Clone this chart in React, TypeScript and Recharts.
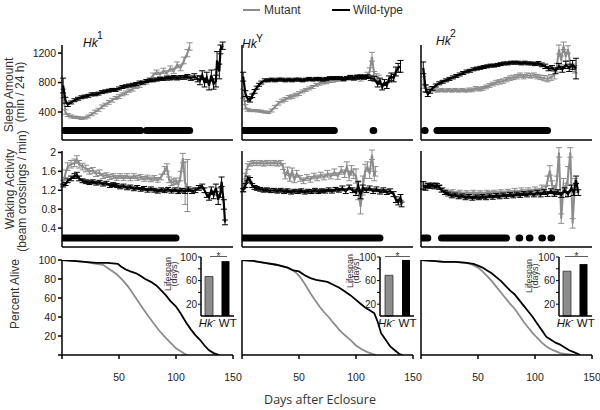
import React from 'react';
import { ComposedChart, Line, XAxis, YAxis, ErrorBar, BarChart, Bar, Cell } from 'recharts';

type P = number[];

// x ticks (days after eclosure) and y ticks per row
const dayTicks = [0, 50, 100, 150];
const sleepTicks = [400, 800, 1200];
const wakeTicks = [0.4, 0.8, 1.2, 1.6, 2];
const aliveTicks = [0, 20, 40, 60, 80, 100];
const lifeTicks = [20, 40, 60, 80, 100];
const superscripts = ['1', 'Y', '2'];

// [day, mean, sem]
const sleepMut1: P[] = [[1,650,60],[3,400,30],[5,360,20],[8,340,20],[11,330,15],[14,325,15],[17,315,15],[20,320,15],[23,340,20],[26,370,20],[29,400,25],[32,430,20],[35,470,25],[38,500,20],[41,530,25],[44,560,25],[47,590,20],[50,610,25],[53,640,20],[56,660,25],[59,690,20],[62,710,25],[65,740,20],[68,760,25],[71,790,20],[74,810,30],[77,840,25],[80,900,30],[83,940,30],[86,910,30],[89,960,35],[92,930,30],[95,990,35],[98,960,35],[101,1040,40],[104,1000,40],[107,1100,45],[110,1200,50],[112,1290,50]];
const sleepWT1: P[] = [[1,760,100],[3,560,40],[5,500,25],[8,530,20],[11,560,20],[14,580,20],[17,600,20],[20,610,20],[23,620,20],[26,640,20],[29,640,20],[32,650,20],[35,670,20],[38,680,20],[41,690,20],[44,700,20],[47,700,20],[50,720,20],[53,740,20],[56,750,20],[59,760,20],[62,770,20],[65,780,20],[68,800,20],[71,800,20],[74,820,20],[77,830,20],[80,830,20],[83,840,20],[86,850,20],[89,850,20],[92,860,25],[95,860,25],[98,870,25],[101,860,25],[104,870,25],[107,870,25],[110,880,30],[113,860,30],[116,880,40],[119,850,40],[121,830,60],[123,900,60],[125,800,60],[127,870,70],[129,760,60],[131,900,70],[133,780,70],[135,820,80],[136,1100,120],[138,950,100],[139,1250,60],[141,1300,50]];
const sleepMut2: P[] = [[1,650,60],[3,470,30],[5,430,20],[8,420,15],[11,420,15],[14,415,15],[17,410,15],[20,400,15],[23,395,15],[26,420,20],[29,470,20],[32,520,25],[35,550,25],[38,570,25],[41,600,25],[44,610,25],[47,630,25],[50,650,25],[53,680,20],[56,700,20],[59,720,20],[62,740,20],[65,770,20],[68,790,25],[71,800,20],[74,810,25],[77,820,20],[80,830,25],[83,840,25],[86,850,25],[89,840,25],[92,860,25],[95,870,30],[98,860,30],[101,880,30],[104,850,30],[107,880,30],[110,900,40],[112,950,50],[114,1150,60],[116,900,50],[118,880,40],[120,860,40]];
const sleepWT2: P[] = [[1,880,60],[3,650,40],[5,580,30],[7,560,25],[9,620,25],[11,680,25],[13,730,20],[15,770,20],[17,800,20],[20,830,20],[23,830,20],[26,840,20],[29,830,20],[32,840,20],[35,840,20],[38,830,20],[41,840,20],[44,830,20],[47,840,20],[50,840,20],[53,830,20],[56,840,20],[59,850,20],[62,840,20],[65,850,20],[68,850,20],[71,840,20],[74,850,20],[77,860,20],[80,860,20],[83,860,20],[86,860,20],[89,850,20],[92,860,20],[95,870,25],[98,860,25],[101,870,25],[104,880,25],[107,870,25],[110,880,25],[113,860,30],[116,850,30],[119,780,40],[121,820,40],[123,740,40],[125,800,40],[127,760,40],[129,850,40],[131,880,50],[133,860,50],[135,950,60],[137,1000,60],[139,1020,80]];
const sleepMut3: P[] = [[2,800,80],[4,720,40],[6,700,30],[9,720,25],[12,700,25],[15,690,20],[18,700,20],[21,690,20],[24,700,20],[27,690,20],[30,700,20],[33,690,20],[36,700,20],[39,690,20],[42,700,25],[45,700,25],[48,720,25],[51,710,25],[54,720,25],[57,740,25],[60,760,25],[63,780,25],[66,800,30],[69,810,30],[72,820,30],[75,840,30],[78,860,30],[81,870,30],[84,880,30],[87,900,30],[90,880,30],[93,900,30],[96,890,30],[99,900,30],[102,880,30],[105,870,30],[108,860,35],[111,850,40],[114,870,40],[117,900,50],[119,1000,60],[121,1250,60],[123,1100,60],[125,1300,50],[127,1150,60],[129,1250,50],[131,1050,50],[133,1000,50],[135,980,50]];
const sleepWT3: P[] = [[2,1000,80],[4,720,50],[6,640,30],[8,680,25],[10,720,25],[13,760,20],[16,790,20],[19,810,20],[22,830,20],[25,850,20],[28,870,20],[31,890,20],[34,910,20],[37,930,20],[40,950,20],[43,960,20],[46,980,20],[49,990,20],[52,1000,20],[55,1010,20],[58,1020,20],[61,1030,20],[64,1030,20],[67,1040,20],[70,1050,20],[73,1060,20],[76,1060,20],[79,1070,20],[82,1070,20],[85,1070,20],[88,1060,20],[91,1070,20],[94,1060,20],[97,1060,20],[100,1050,20],[103,1060,25],[106,1040,25],[109,1020,30],[112,990,30],[115,1000,30],[118,960,40],[121,1020,40],[124,980,40],[127,1040,50],[130,1000,50],[133,1040,60],[136,990,140]];

const wakeMut1: P[] = [[1,1.36,0.05],[3,1.55,0.08],[5,1.7,0.08],[8,1.75,0.08],[11,1.78,0.08],[13,1.85,0.08],[15,1.75,0.08],[18,1.7,0.07],[21,1.66,0.07],[24,1.6,0.06],[27,1.62,0.06],[30,1.55,0.06],[33,1.57,0.06],[36,1.5,0.05],[39,1.52,0.05],[42,1.48,0.05],[45,1.5,0.05],[48,1.46,0.05],[51,1.5,0.05],[54,1.46,0.05],[57,1.5,0.05],[60,1.45,0.05],[63,1.5,0.05],[66,1.46,0.05],[69,1.48,0.05],[72,1.44,0.05],[75,1.47,0.05],[78,1.43,0.05],[81,1.46,0.05],[84,1.42,0.05],[87,1.48,0.06],[90,1.62,0.08],[92,1.68,0.08],[94,1.42,0.06],[96,1.36,0.06],[98,1.38,0.06],[100,1.4,0.06],[102,1.32,0.07],[104,1.5,0.1],[106,1.88,0.1],[108,1.35,0.45],[110,1.3,0.55]];
const wakeWT1: P[] = [[1,1.3,0.03],[3,1.33,0.03],[5,1.4,0.04],[8,1.45,0.05],[11,1.5,0.05],[13,1.52,0.06],[15,1.45,0.05],[18,1.4,0.04],[21,1.38,0.04],[24,1.36,0.04],[27,1.38,0.04],[30,1.35,0.04],[33,1.37,0.04],[36,1.33,0.04],[39,1.35,0.04],[42,1.3,0.04],[45,1.32,0.04],[48,1.3,0.04],[51,1.27,0.04],[54,1.29,0.04],[57,1.25,0.04],[60,1.27,0.04],[63,1.23,0.04],[66,1.26,0.04],[69,1.22,0.04],[72,1.24,0.04],[75,1.2,0.04],[78,1.23,0.04],[81,1.2,0.04],[84,1.18,0.04],[87,1.21,0.04],[90,1.19,0.04],[93,1.22,0.04],[96,1.18,0.04],[99,1.21,0.04],[102,1.17,0.04],[105,1.2,0.04],[108,1.18,0.05],[111,1.22,0.05],[114,1.18,0.05],[117,1.2,0.05],[120,1.25,0.05],[123,1.28,0.05],[125,1.2,0.05],[127,1.1,0.05],[129,1.05,0.06],[131,1.2,0.07],[133,1.1,0.08],[135,1.25,0.08],[137,1.0,0.1],[139,1.15,0.1],[140,1.38,0.1],[142,0.9,0.1],[143,0.52,0.05]];
const wakeMut2: P[] = [[1,1.2,0.04],[3,1.5,0.06],[5,1.7,0.06],[7,1.76,0.05],[10,1.78,0.05],[13,1.77,0.05],[16,1.78,0.05],[19,1.76,0.05],[22,1.78,0.05],[25,1.77,0.05],[28,1.78,0.05],[31,1.76,0.05],[34,1.78,0.05],[36,1.7,0.06],[38,1.5,0.06],[40,1.62,0.07],[42,1.45,0.06],[44,1.6,0.07],[46,1.42,0.06],[48,1.55,0.07],[51,1.45,0.06],[54,1.4,0.06],[57,1.47,0.06],[60,1.43,0.06],[63,1.5,0.06],[66,1.46,0.06],[69,1.52,0.06],[72,1.48,0.06],[75,1.55,0.07],[78,1.5,0.06],[81,1.58,0.07],[84,1.5,0.07],[87,1.62,0.08],[90,1.55,0.08],[92,1.7,0.1],[94,1.5,0.1],[96,1.62,0.1],[98,1.55,0.1],[100,1.5,0.15],[102,1.2,0.2],[104,0.85,0.15],[106,1.3,0.2],[108,1.6,0.15],[110,1.7,0.1],[112,1.55,0.1],[114,1.95,0.1],[116,1.5,0.1],[117,1.6,0.1]];
const wakeWT2: P[] = [[1,1.2,0.03],[3,1.3,0.04],[5,1.45,0.05],[7,1.42,0.05],[9,1.3,0.04],[11,1.26,0.04],[13,1.24,0.04],[16,1.22,0.04],[19,1.2,0.04],[22,1.21,0.04],[25,1.19,0.04],[28,1.2,0.04],[31,1.18,0.04],[34,1.2,0.04],[37,1.17,0.04],[40,1.19,0.04],[43,1.16,0.04],[46,1.18,0.04],[49,1.17,0.04],[52,1.19,0.04],[55,1.16,0.04],[58,1.18,0.04],[61,1.17,0.04],[64,1.2,0.04],[67,1.17,0.04],[70,1.19,0.04],[73,1.18,0.04],[76,1.21,0.04],[79,1.18,0.04],[82,1.22,0.04],[85,1.2,0.04],[88,1.24,0.05],[91,1.18,0.05],[94,1.26,0.05],[97,1.2,0.05],[100,1.15,0.06],[102,1.3,0.08],[104,1.1,0.08],[106,1.25,0.06],[109,1.2,0.05],[112,1.24,0.05],[115,1.18,0.05],[118,1.22,0.05],[121,1.17,0.05],[124,1.2,0.05],[127,1.16,0.05],[130,1.18,0.05],[133,1.12,0.05],[135,1.0,0.06],[137,0.95,0.06],[139,1.05,0.06],[140,0.9,0.05]];
const wakeMut3: P[] = [[2,1.3,0.08],[4,1.28,0.05],[7,1.32,0.04],[10,1.3,0.04],[13,1.32,0.04],[16,1.28,0.04],[19,1.22,0.04],[22,1.18,0.04],[25,1.15,0.04],[28,1.17,0.04],[31,1.13,0.04],[34,1.16,0.04],[37,1.12,0.04],[40,1.15,0.04],[43,1.12,0.04],[46,1.16,0.04],[49,1.12,0.04],[52,1.15,0.04],[55,1.12,0.04],[58,1.16,0.04],[61,1.13,0.04],[64,1.16,0.04],[67,1.14,0.04],[70,1.17,0.04],[73,1.14,0.04],[76,1.18,0.04],[79,1.15,0.04],[82,1.19,0.05],[85,1.15,0.05],[88,1.2,0.05],[91,1.16,0.05],[94,1.2,0.05],[97,1.17,0.05],[100,1.22,0.05],[103,1.18,0.05],[106,1.25,0.06],[109,1.2,0.08],[111,1.4,0.1],[113,1.62,0.1],[115,1.3,0.1],[117,1.2,0.1],[119,1.35,0.15],[121,2.0,0.1],[123,0.6,0.1],[125,1.3,0.15],[127,1.2,0.15],[129,1.5,0.2],[131,2.0,0.1],[133,0.5,0.1],[135,1.3,0.15],[136,1.25,0.1]];
const wakeWT3: P[] = [[2,1.3,0.08],[4,1.25,0.05],[6,1.3,0.04],[8,1.28,0.04],[10,1.31,0.04],[12,1.27,0.04],[14,1.3,0.04],[16,1.26,0.04],[18,1.2,0.04],[21,1.15,0.04],[24,1.12,0.04],[27,1.08,0.04],[30,1.1,0.04],[33,1.06,0.04],[36,1.08,0.04],[39,1.04,0.04],[42,1.07,0.04],[45,1.03,0.04],[48,1.06,0.04],[51,1.04,0.04],[54,1.07,0.04],[57,1.04,0.04],[60,1.08,0.04],[63,1.05,0.04],[66,1.09,0.04],[69,1.06,0.04],[72,1.1,0.04],[75,1.07,0.04],[78,1.11,0.04],[81,1.08,0.04],[84,1.12,0.04],[87,1.09,0.04],[90,1.13,0.04],[93,1.1,0.04],[96,1.14,0.04],[99,1.1,0.04],[102,1.15,0.05],[105,1.11,0.05],[108,1.16,0.05],[111,1.12,0.05],[114,1.18,0.05],[117,1.12,0.05],[120,1.16,0.05],[123,1.1,0.05],[126,1.2,0.05],[129,1.12,0.05],[132,1.25,0.06],[134,1.15,0.06],[136,1.42,0.08],[138,1.15,0.06]];

// [day, percent alive]
const aliveMut1: P[] = [[0,100],[10,99],[20,98],[30,96],[36,95],[42,90],[48,85],[53,79],[58,72],[62,65],[66,58],[71,49],[75,42],[80,34],[85,26],[91,18],[96,12],[100,7],[104,4],[108,1],[110,0]];
const aliveWT1: P[] = [[0,100],[10,99],[20,98],[30,97],[40,97],[49,96],[52,93],[56,90],[60,88],[65,86],[68,84],[73,80],[78,77],[83,73],[87,68],[91,63],[95,57],[100,51],[104,44],[109,34],[113,27],[117,21],[121,16],[125,10],[129,5],[133,2],[138,0]];
const aliveMut2: P[] = [[0,100],[10,99],[20,97],[30,95],[40,92],[45,89],[48,86],[51,82],[55,75],[60,65],[64,58],[68,51],[72,45],[76,40],[80,34],[85,27],[90,21],[95,16],[100,10],[105,6],[110,3],[115,1],[118,0]];
const aliveWT2: P[] = [[0,100],[10,99],[20,97],[30,95],[40,92],[45,89],[50,88],[55,84],[60,81],[65,79],[70,78],[75,77],[80,74],[85,71],[89,68],[95,63],[100,58],[104,54],[108,50],[112,47],[116,44],[119,35],[122,23],[126,16],[130,9],[134,5],[138,1],[141,0]];
const aliveMut3: P[] = [[0,100],[10,99],[20,98],[30,98],[40,97],[45,95],[50,92],[54,88],[58,83],[62,78],[66,72],[70,66],[74,60],[78,54],[82,49],[86,42],[90,35],[94,29],[98,23],[102,18],[106,13],[110,9],[114,6],[118,4],[122,2],[128,1],[134,0]];
const aliveWT3: P[] = [[0,100],[10,99],[20,98],[30,98],[40,97],[46,96],[50,94],[54,92],[58,89],[62,86],[66,82],[70,78],[74,73],[78,68],[82,64],[86,58],[90,52],[94,46],[98,40],[102,33],[106,26],[110,19],[114,16],[118,13],[122,11],[126,8],[130,5],[134,3],[138,1],[140,0]];

// days with significant difference: [from, to]
const sleepSig: P[][] = [[[2,69],[74,112]], [[1,81],[115,115.6]], [[3,3.6],[14,111]]];
const wakeSig: P[][] = [[[1,31],[33,100]], [[1,121]], [[2,6],[18,75],[86,86.6],[95,95.6],[106,106.6],[114,114.6]]];
const sleepSigLevel = 150;
const wakeSigLevel = 0.19;

// mean lifespan (days)
const lifeCats = ['Hk', 'WT'];
const lifespanMut = [67, 69, 76];
const lifespanWT = [93, 95, 88];

const sleepMut = [sleepMut1, sleepMut2, sleepMut3];
const sleepWT = [sleepWT1, sleepWT2, sleepWT3];
const wakeMut = [wakeMut1, wakeMut2, wakeMut3];
const wakeWT = [wakeWT1, wakeWT2, wakeWT3];
const aliveMut = [aliveMut1, aliveMut2, aliveMut3];
const aliveWT = [aliveWT1, aliveWT2, aliveWT3];

const GRAY = '#8c8c8c';
const BLACK = '#000';
const FONT = '"Liberation Sans", Arial, sans-serif';
const COLS = [62, 242, 421];
const PW = 171;
const YW = 40;
const MT = 10;
const MR = 14;
const axisStyle = { stroke: '#000', strokeWidth: 1.5 };

const toPts = (arr: P[]) => arr.map(([x, y, e]) => ({ x, y, e }));

function series(key: string, arr: P[], color: string, width: number, err: boolean) {
  return (
    <Line
      key={key}
      data={toPts(arr)}
      dataKey="y"
      type="linear"
      stroke={color}
      strokeWidth={width}
      dot={false}
      isAnimationActive={false}
    >
      {err && (
        <ErrorBar dataKey="e" direction="y" width={3} stroke={color} strokeWidth={1} isAnimationActive={false} />
      )}
    </Line>
  );
}

function sigLines(key: string, segs: P[], level: number) {
  return segs.map(([a, b], i) => (
    <Line
      key={`${key}-${i}`}
      data={[{ x: a, y: level }, { x: b, y: level }]}
      dataKey="y"
      stroke={BLACK}
      strokeWidth={7}
      strokeLinecap="round"
      dot={false}
      isAnimationActive={false}
    />
  ));
}

type PanelProps = {
  col: number;
  top: number;
  h: number;
  domain: number[];
  ticks: number[];
  xLabels: boolean;
  children: React.ReactNode;
};

function Panel({ col, top, h, domain, ticks, xLabels, children }: PanelProps) {
  const xh = xLabels ? 30 : 8;
  const showY = col === 0;
  return (
    <div style={{ position: 'absolute', left: COLS[col] - YW, top: top - MT }}>
      <ComposedChart width={YW + PW + MR} height={MT + h + xh} margin={{ top: MT, right: MR, left: 0, bottom: 0 }}>
        <XAxis
          type="number"
          dataKey="x"
          domain={[0, 150]}
          ticks={dayTicks}
          interval={0}
          allowDataOverflow
          height={xh}
          axisLine={axisStyle}
          tickLine={axisStyle}
          tickSize={4}
          tickMargin={15}
          tick={xLabels ? { fontSize: 10.5, fill: '#222', fontFamily: FONT } : false}
          tickFormatter={(v: number) => (v === 0 ? '' : String(v))}
        />
        <YAxis
          type="number"
          domain={domain}
          ticks={ticks}
          interval={0}
          allowDataOverflow
          width={YW}
          axisLine={axisStyle}
          tickLine={axisStyle}
          tickSize={4}
          tickMargin={2}
          tick={showY ? { fontSize: 10.5, fill: '#222', fontFamily: FONT } : false}
          tickFormatter={(v: number) => (v === 0 ? '' : String(v))}
        />
        {children}
      </ComposedChart>
    </div>
  );
}

const InsetTick = (props: any) => {
  const { x, y, payload } = props;
  if (payload.value === 'Hk') {
    return (
      <text x={x - 2} y={y + 11} textAnchor="middle" fontSize={11.5} fontFamily={FONT} fill="#111">
        <tspan fontStyle="italic">Hk</tspan>
        <tspan fontSize={9} dy={-4}>-</tspan>
      </text>
    );
  }
  return (
    <text x={x + 2} y={y + 11} textAnchor="middle" fontSize={11.5} fontFamily={FONT} fill="#111">
      {payload.value}
    </text>
  );
};

const INSET_X = [201, 380, 559];
const INSET_W = [33, 34, 33];
const INSET_MT = 8;
const INSET_MR = 8;

function Inset({ col }: { col: number }) {
  const data = lifeCats.map((name, i) => ({ name, v: i === 0 ? lifespanMut[col] : lifespanWT[col] }));
  const iw = 25;
  return (
    <div style={{ position: 'absolute', left: INSET_X[col] - iw, top: 257 - INSET_MT }}>
      <BarChart
        width={iw + INSET_W[col] + INSET_MR}
        height={INSET_MT + 59 + 20}
        data={data}
        margin={{ top: INSET_MT, right: INSET_MR, left: 0, bottom: 0 }}
        barSize={8}
      >
        <XAxis dataKey="name" height={20} axisLine={axisStyle} tickLine={false} tickSize={0} tickMargin={0} tick={<InsetTick />} interval={0} />
        <YAxis
          type="number"
          domain={[0, 100]}
          ticks={lifeTicks}
          interval={0}
          width={iw}
          axisLine={axisStyle}
          tickLine={{ stroke: '#000', strokeWidth: 1 }}
          tickSize={3}
          tickMargin={1}
          tick={{ fontSize: 10, fill: '#222', fontFamily: FONT }}
          tickFormatter={(v: number) => (v === 20 || v === 60 || v === 100 ? String(v) : '')}
        />
        <Bar dataKey="v" isAnimationActive={false}>
          <Cell fill={GRAY} stroke="#333" strokeWidth={0.8} />
          <Cell fill={BLACK} />
        </Bar>
      </BarChart>
    </div>
  );
}

const lifeLabelPos = [[171, 274], [353, 271], [532, 276]];
const starLines = [[210, 227], [385, 410], [565, 588]];
const titlePos = [[83, 47, 97, 39], [242, 48, 256, 42], [436, 45, 450, 37]];

export default function App() {
  const txt = { fontFamily: FONT, fill: '#333' };
  return (
    <div style={{ position: 'absolute', left: 0, top: 0, width: 600, height: 410, background: '#fff' }}>
      {[0, 1, 2].map((c) => (
        <Panel key={`s${c}`} col={c} top={45} h={95} domain={[20, 1310]} ticks={sleepTicks} xLabels={false}>
          {series(`sm${c}`, sleepMut[c], GRAY, 2, true)}
          {series(`sw${c}`, sleepWT[c], BLACK, 2.2, true)}
          {sigLines(`ss${c}`, sleepSig[c], sleepSigLevel)}
        </Panel>
      ))}
      {[0, 1, 2].map((c) => (
        <Panel key={`w${c}`} col={c} top={151} h={96} domain={[0, 2.03]} ticks={wakeTicks} xLabels={false}>
          {series(`wm${c}`, wakeMut[c], GRAY, 2, true)}
          {series(`ww${c}`, wakeWT[c], BLACK, 2.2, true)}
          {sigLines(`ws${c}`, wakeSig[c], wakeSigLevel)}
        </Panel>
      ))}
      {[0, 1, 2].map((c) => (
        <Panel key={`a${c}`} col={c} top={260} h={95} domain={[0, 100]} ticks={aliveTicks} xLabels>
          {series(`am${c}`, aliveMut[c], GRAY, 1.8, false)}
          {series(`aw${c}`, aliveWT[c], BLACK, 1.8, false)}
        </Panel>
      ))}
      {[0, 1, 2].map((c) => (
        <Inset key={`i${c}`} col={c} />
      ))}
      <svg width={600} height={410} style={{ position: 'absolute', left: 0, top: 0, pointerEvents: 'none' }}>
        {/* legend */}
        <line x1={243} x2={260} y1={10} y2={10} stroke={GRAY} strokeWidth={2} />
        <text x={264} y={14} fontSize={12} {...txt}>Mutant</text>
        <line x1={332} x2={350} y1={10} y2={10} stroke={BLACK} strokeWidth={2} />
        <text x={353} y={14} fontSize={12} {...txt}>Wild-type</text>
        {/* genotype titles */}
        {titlePos.map(([x, y, sx, sy], i) => (
          <g key={`t${i}`}>
            <text x={x} y={y} fontSize={12} fontStyle="italic" fontFamily={FONT} fill="#111">Hk</text>
            <text x={sx} y={sy} fontSize={10.5} fontFamily={FONT} fill="#111">{superscripts[i]}</text>
          </g>
        ))}
        {/* axis titles */}
        <text transform="translate(13,95) rotate(-90)" textAnchor="middle" fontSize={12} {...txt}>Sleep Amount</text>
        <text transform="translate(24,92) rotate(-90)" textAnchor="middle" fontSize={12} {...txt}>(min / 24 h)</text>
        <text transform="translate(14,189) rotate(-90)" textAnchor="middle" fontSize={12} {...txt}>Waking Activity</text>
        <text transform="translate(26,191) rotate(-90)" textAnchor="middle" fontSize={12} {...txt}>(beam crossings / min)</text>
        <text transform="translate(19,294) rotate(-90)" textAnchor="middle" fontSize={12} {...txt}>Percent Alive</text>
        <text x={320} y={404} textAnchor="middle" fontSize={12.5} fontFamily='"Open Sans", sans-serif' fill="#333">Days after Eclosure</text>
        {/* inset annotations */}
        {lifeLabelPos.map(([x, y], i) => (
          <g key={`l${i}`}>
            <text transform={`translate(${x},${y}) rotate(-90)`} textAnchor="middle" fontSize={9} {...txt}>Lifespan</text>
            <text transform={`translate(${x + 6},${y}) rotate(-90)`} textAnchor="middle" fontSize={9} {...txt}>(days)</text>
          </g>
        ))}
        {starLines.map(([a, b], i) => (
          <g key={`st${i}`}>
            <line x1={a} x2={b} y1={256.5} y2={256.5} stroke="#333" strokeWidth={0.8} />
            <text x={(a + b) / 2} y={259.5} textAnchor="middle" fontSize={10} {...txt}>*</text>
          </g>
        ))}
      </svg>
    </div>
  );
}
